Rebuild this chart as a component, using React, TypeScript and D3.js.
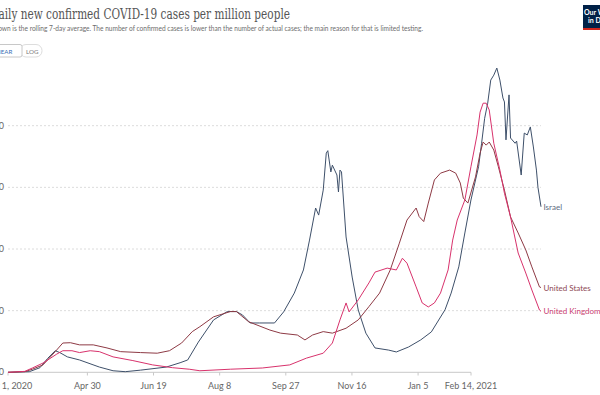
import React, { useEffect, useRef } from 'react';
import * as d3 from 'd3';

// [date, cases per million]
const israel: [string, number][] = [
  ['2020-03-01', 0], ['2020-03-15', 2], ['2020-03-22', 15], ['2020-03-27', 45], ['2020-04-01', 70],
  ['2020-04-04', 64], ['2020-04-09', 50], ['2020-04-17', 40], ['2020-04-30', 17], ['2020-05-09', 5],
  ['2020-05-17', 2], ['2020-05-27', 7], ['2020-06-13', 17], ['2020-06-22', 31], ['2020-06-27', 40],
  ['2020-07-04', 98], ['2020-07-14', 170], ['2020-07-23', 197], ['2020-07-29', 197], ['2020-08-02', 186],
  ['2020-08-07', 160], ['2020-08-13', 160], ['2020-08-23', 160], ['2020-08-29', 196], ['2020-09-05', 257],
  ['2020-09-11', 332], ['2020-09-15', 429], ['2020-09-19', 533], ['2020-09-21', 510], ['2020-09-24', 591],
  ['2020-09-26', 711], ['2020-09-27', 719], ['2020-09-29', 650], ['2020-09-30', 672], ['2020-10-03', 640],
  ['2020-10-04', 585], ['2020-10-05', 656], ['2020-10-06', 650], ['2020-10-09', 439], ['2020-10-13', 309],
  ['2020-10-17', 202], ['2020-10-22', 127], ['2020-10-28', 79], ['2020-11-06', 72], ['2020-11-11', 66],
  ['2020-11-19', 82], ['2020-11-27', 105], ['2020-12-04', 131], ['2020-12-13', 203], ['2020-12-17', 257],
  ['2020-12-22', 342], ['2020-12-26', 452], ['2020-12-30', 559], ['2021-01-04', 667], ['2021-01-06', 743],
  ['2021-01-08', 824], ['2021-01-10', 873], ['2021-01-12', 948], ['2021-01-14', 964], ['2021-01-16', 987],
  ['2021-01-18', 948], ['2021-01-20', 890], ['2021-01-21', 877], ['2021-01-22', 754], ['2021-01-24', 900],
  ['2021-01-25', 760], ['2021-01-28', 743], ['2021-01-29', 750], ['2021-02-01', 640], ['2021-02-03', 776],
  ['2021-02-05', 770], ['2021-02-07', 796], ['2021-02-09', 731], ['2021-02-11', 656], ['2021-02-12', 600],
  ['2021-02-14', 537],
];

const unitedStates: [string, number][] = [
  ['2020-03-01', 0], ['2020-03-12', 2], ['2020-03-17', 10], ['2020-03-24', 24], ['2020-04-01', 67],
  ['2020-04-06', 95], ['2020-04-11', 96], ['2020-04-17', 89], ['2020-04-26', 89], ['2020-05-05', 79],
  ['2020-05-14', 67], ['2020-05-27', 64], ['2020-06-07', 62], ['2020-06-15', 70], ['2020-06-23', 95],
  ['2020-06-30', 132], ['2020-07-05', 148], ['2020-07-14', 180], ['2020-07-25', 197], ['2020-07-29', 197],
  ['2020-08-06', 164], ['2020-08-20', 137], ['2020-08-27', 127], ['2020-09-07', 121], ['2020-09-12', 105],
  ['2020-09-17', 121], ['2020-09-24', 132], ['2020-09-30', 127], ['2020-10-09', 143], ['2020-10-17', 170],
  ['2020-10-24', 213], ['2020-10-31', 257], ['2020-11-07', 332], ['2020-11-13', 419], ['2020-11-18', 494],
  ['2020-11-24', 533], ['2020-11-26', 505], ['2020-11-29', 489], ['2020-12-02', 549], ['2020-12-06', 624],
  ['2020-12-10', 646], ['2020-12-16', 656], ['2020-12-20', 646], ['2020-12-23', 614], ['2020-12-25', 565],
  ['2020-12-28', 549], ['2021-01-02', 634], ['2021-01-05', 711], ['2021-01-07', 747], ['2021-01-09', 737],
  ['2021-01-11', 747], ['2021-01-14', 721], ['2021-01-17', 667], ['2021-01-21', 591], ['2021-01-25', 504],
  ['2021-01-30', 452], ['2021-02-04', 397], ['2021-02-08', 342], ['2021-02-13', 277], ['2021-02-14', 275],
];

const unitedKingdom: [string, number][] = [
  ['2020-03-01', 0], ['2020-03-12', 3], ['2020-03-17', 14], ['2020-03-24', 30], ['2020-04-02', 59],
  ['2020-04-06', 70], ['2020-04-12', 70], ['2020-04-17', 64], ['2020-04-24', 70], ['2020-04-30', 67],
  ['2020-05-09', 50], ['2020-05-22', 38], ['2020-06-04', 24], ['2020-06-17', 15], ['2020-06-28', 10],
  ['2020-07-05', 5], ['2020-07-25', 10], ['2020-08-15', 14], ['2020-09-02', 24], ['2020-09-13', 46],
  ['2020-09-24', 62], ['2020-09-30', 95], ['2020-10-05', 170], ['2020-10-09', 225], ['2020-10-11', 196],
  ['2020-10-17', 235], ['2020-10-24', 290], ['2020-10-28', 325], ['2020-11-05', 338], ['2020-11-11', 332],
  ['2020-11-15', 370], ['2020-11-18', 354], ['2020-11-24', 277], ['2020-11-28', 225], ['2020-12-02', 212],
  ['2020-12-06', 225], ['2020-12-10', 257], ['2020-12-15', 332], ['2020-12-18', 429], ['2020-12-21', 494],
  ['2020-12-26', 559], ['2020-12-30', 667], ['2021-01-03', 770], ['2021-01-05', 844], ['2021-01-07', 873],
  ['2021-01-09', 873], ['2021-01-11', 851], ['2021-01-14', 743], ['2021-01-18', 656], ['2021-01-21', 581],
  ['2021-01-25', 504], ['2021-01-30', 387], ['2021-02-04', 322], ['2021-02-08', 267], ['2021-02-13', 202],
  ['2021-02-14', 198],
];

const xTickDates = ['2020-03-01', '2020-04-30', '2020-06-19', '2020-08-08', '2020-09-27', '2020-11-16', '2021-01-05', '2021-02-14'];
const xTickLabels = ['Mar 1, 2020', 'Apr 30', 'Jun 19', 'Aug 8', 'Sep 27', 'Nov 16', 'Jan 5', 'Feb 14, 2021'];
const yTicks = [0, 200, 400, 600, 800];

const seriesNames = ['Israel', 'United States', 'United Kingdom'];
const seriesColors = ['#3e506a', '#8e3a45', '#d8326c'];
const labelColors = ['#5b6b80', '#8e4a55', '#c8406f'];

const title = 'Daily new confirmed COVID-19 cases per million people';
const subtitle = 'Shown is the rolling 7-day average. The number of confirmed cases is lower than the number of actual cases; the main reason for that is limited testing.';

export default function App() {
  const ref = useRef<SVGSVGElement>(null);

  useEffect(() => {
    const svg = d3.select(ref.current);
    svg.selectAll('*').remove();
    const parse = d3.timeParse('%Y-%m-%d');
    const font = 'Lato, "Open Sans", sans-serif';

    const start = parse('2020-03-01')!;
    const end = parse('2021-02-14')!;
    const x = d3.scaleTime().domain([start, end]).range([8, 541]);
    // the axis labels in the reference sit on a narrower span than the lines
    const xAxisScale = d3.scaleTime().domain([start, end]).range([8, 471]);
    const y = d3.scaleLinear().domain([0, 800]).range([372.3, 125.7]);

    // header
    svg.append('text').attr('x', -10).attr('y', 19)
      .attr('font-family', '"DejaVu Serif", "Liberation Serif", serif')
      .attr('font-size', 14.5).attr('fill', '#555')
      .attr('textLength', 300).attr('lengthAdjust', 'spacingAndGlyphs').text(title);
    svg.append('text').attr('x', -9).attr('y', 31)
      .attr('font-family', font).attr('font-size', 7.6).attr('fill', '#6e6e6e')
      .attr('textLength', 432).attr('lengthAdjust', 'spacingAndGlyphs').text(subtitle);

    // LINEAR / LOG toggle
    svg.append('rect').attr('x', 20).attr('y', 44.5).attr('width', 22).attr('height', 12.5)
      .attr('rx', 6).attr('fill', '#fff').attr('stroke', '#ddd');
    svg.append('rect').attr('x', -12).attr('y', 44.5).attr('width', 34).attr('height', 12.5)
      .attr('rx', 2).attr('fill', '#fff').attr('stroke', '#c8c8c8');
    svg.append('text').attr('x', -9).attr('y', 53.5).attr('font-family', font).attr('font-size', 6.2)
      .attr('fill', '#3a6fb5').text('LINEAR');
    svg.append('text').attr('x', 26).attr('y', 53.5).attr('font-family', font).attr('font-size', 6.2)
      .attr('fill', '#777').text('LOG');

    // logo
    const logo = svg.append('g');
    logo.append('rect').attr('x', 583).attr('y', 5).attr('width', 20).attr('height', 25).attr('fill', '#002147');
    logo.append('rect').attr('x', 583).attr('y', 28).attr('width', 20).attr('height', 2).attr('fill', '#ce261e');
    logo.append('text').attr('x', 584).attr('y', 15).attr('font-family', font).attr('font-size', 7)
      .attr('font-weight', 700).attr('fill', '#fff').text('Our World');
    logo.append('text').attr('x', 588).attr('y', 23).attr('font-family', font).attr('font-size', 7)
      .attr('font-weight', 700).attr('fill', '#fff').text('in Data');

    // gridlines and y labels
    const grid = svg.append('g');
    yTicks.forEach(t => {
      grid.append('line').attr('x1', 8).attr('x2', t === 0 ? 471 : 541)
        .attr('y1', y(t)).attr('y2', y(t))
        .attr('stroke', t === 0 ? '#c8c8c8' : '#dcdcdc')
        .attr('stroke-dasharray', t === 0 ? null : '2,2');
      grid.append('text').attr('x', 4).attr('y', y(t) + 3).attr('text-anchor', 'end')
        .attr('font-family', font).attr('font-size', 9).attr('fill', '#666').text(String(t));
    });

    // x axis
    const axis = svg.append('g');
    xTickDates.forEach((d, i) => {
      const px = xAxisScale(parse(d)!);
      axis.append('line').attr('x1', px).attr('x2', px).attr('y1', 372.3).attr('y2', 375.5).attr('stroke', '#c8c8c8');
      axis.append('text').attr('x', px).attr('y', 389).attr('text-anchor', 'middle')
        .attr('font-family', font).attr('font-size', 9).attr('fill', '#666').text(xTickLabels[i]);
    });

    // lines
    const line = d3.line<[Date, number]>().x(d => x(d[0])).y(d => y(d[1]));
    const all = [israel, unitedStates, unitedKingdom];
    all.forEach((s, i) => {
      const pts = s.map(([d, v]) => [parse(d)!, v] as [Date, number]);
      svg.append('path').datum(pts).attr('fill', 'none').attr('stroke', seriesColors[i])
        .attr('stroke-width', 1).attr('stroke-linejoin', 'round').attr('d', line);
      const last = pts[pts.length - 1];
      svg.append('text').attr('x', x(last[0]) + 2.5).attr('y', y(last[1]) + 3)
        .attr('font-family', font).attr('font-size', 8).attr('fill', labelColors[i]).text(seriesNames[i]);
    });
  }, []);

  return (
    <svg ref={ref} width={600} height={395}
      style={{ position: 'absolute', left: 0, top: 0, background: '#fff' }} />
  );
}
